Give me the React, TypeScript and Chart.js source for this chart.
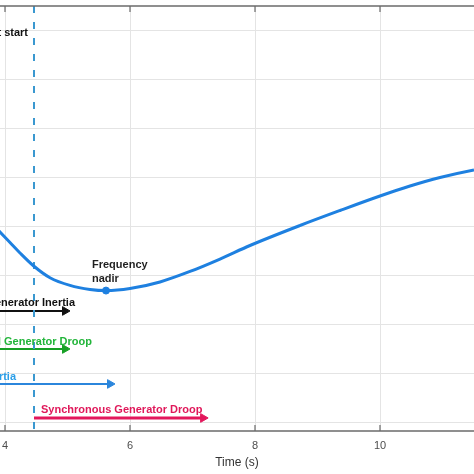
import React, { useEffect, useRef } from "react";
import { Chart, registerables } from "chart.js";

Chart.register(...registerables);

// Frequency response (time in s, frequency in Hz)
const timeS = [3.88, 3.92, 4.08, 4.24, 4.464, 4.72, 5.04, 5.36, 5.616, 6.0, 6.48, 6.96, 7.44, 7.92, 8.72, 9.36, 10.0, 10.48, 10.96, 11.504, 11.55];
const freqHz = [49.7976, 49.7949, 49.7842, 49.7735, 49.7599, 49.7482, 49.7404, 49.7363, 49.7351, 49.7372, 49.7439, 49.7546, 49.7673, 49.7811, 49.8015, 49.8168, 49.8316, 49.8418, 49.8505, 49.8582, 49.8587];

// Frequency nadir marker
const nadirTime = [5.616];
const nadirFreq = [49.7351];

// Disturbance start
const eventTime = 4.464;

// Axis limits / ticks
const xMin = 3.92;
const xMax = 11.504;
const xStep = 2;
const yMin = 49.5918;
const yMax = 50.0255;
const yStep = 0.05;

// Response arrows
const arrowStart = [3.7, 3.7, 3.7, 4.464];
const arrowEnd = [4.96, 4.96, 5.68, 7.17];
const arrowLevel = [49.7143, 49.6755, 49.6398, 49.6051];

// Text annotations
const labelText = [
  "Fault start",
  "Frequency",
  "nadir",
  "Synchronous Generator Inertia",
  "Wind Generator Droop",
  "Virtual Inertia",
  "Synchronous Generator Droop",
];
const labelTime = [4.368, 5.392, 5.392, 5.12, 5.392, 4.176, 4.576];
const labelFreq = [49.9949, 49.7582, 49.7439, 49.7194, 49.6796, 49.6439, 49.6102];

// Styles
const arrowColors = ["#111111", "#17a025", "#2b86dc", "#e3175c"];
const arrowWidths = [2, 2, 2, 3];
const labelAlign: CanvasTextAlign[] = ["right", "left", "left", "right", "right", "right", "left"];
const labelColors = ["#111111", "#1f1f1f", "#1f1f1f", "#111111", "#22b53a", "#2a9ee8", "#e0185a"];
const curveColor = "#1e80e0";
const FONT = '"Liberation Sans", Arial, sans-serif';

const framePlugin = {
  id: "frame",
  afterDatasetsDraw(chart: any) {
    const { ctx, chartArea } = chart;
    const xs = chart.scales.x;
    ctx.save();
    ctx.strokeStyle = "#6b6b6b";
    ctx.lineWidth = 1.5;
    ctx.beginPath();
    ctx.moveTo(chartArea.left, chartArea.top);
    ctx.lineTo(chartArea.right, chartArea.top);
    ctx.moveTo(chartArea.left, chartArea.bottom);
    ctx.lineTo(chartArea.right, chartArea.bottom);
    ctx.stroke();
    ctx.lineWidth = 1.2;
    ctx.beginPath();
    xs.ticks.forEach((t: any) => {
      const px = xs.getPixelForValue(t.value);
      ctx.moveTo(px, chartArea.bottom);
      ctx.lineTo(px, chartArea.bottom - 6);
      ctx.moveTo(px, chartArea.top);
      ctx.lineTo(px, chartArea.top + 6);
    });
    ctx.stroke();
    ctx.restore();
  },
};

const textPlugin = {
  id: "texts",
  afterDatasetsDraw(chart: any) {
    const { ctx } = chart;
    const xs = chart.scales.x;
    const ys = chart.scales.y;
    ctx.save();
    ctx.font = `bold 11px ${FONT}`;
    ctx.textBaseline = "alphabetic";
    labelText.forEach((txt, i) => {
      ctx.fillStyle = labelColors[i];
      ctx.textAlign = labelAlign[i];
      ctx.fillText(txt, xs.getPixelForValue(labelTime[i]), ys.getPixelForValue(labelFreq[i]));
    });
    ctx.restore();
  },
};

export default function App() {
  const ref = useRef<HTMLCanvasElement>(null);

  useEffect(() => {
    document.body.style.margin = "0";
    const datasets: any[] = [
      {
        label: "Frequency",
        data: timeS.map((t, i) => ({ x: t, y: freqHz[i] })),
        borderColor: curveColor,
        borderWidth: 3,
        pointRadius: 0,
        cubicInterpolationMode: "monotone",
        fill: false,
      },
      {
        label: "Nadir",
        data: nadirTime.map((t, i) => ({ x: t, y: nadirFreq[i] })),
        showLine: false,
        pointStyle: "circle",
        pointRadius: 3.5,
        pointBackgroundColor: curveColor,
        pointBorderColor: curveColor,
      },
      {
        label: "Start",
        data: [
          { x: eventTime, y: yMax },
          { x: eventTime, y: yMin },
        ],
        borderColor: "#3a98d0",
        borderWidth: 2,
        borderDash: [7, 9],
        pointRadius: 0,
        fill: false,
      },
    ];
    arrowStart.forEach((s, i) => {
      datasets.push({
        label: "arrow" + i,
        data: [
          { x: s, y: arrowLevel[i] },
          { x: arrowEnd[i], y: arrowLevel[i] },
        ],
        borderColor: arrowColors[i],
        borderWidth: arrowWidths[i],
        pointStyle: "triangle",
        pointRadius: [0, 5],
        pointRotation: [0, 90],
        pointBackgroundColor: arrowColors[i],
        pointBorderColor: arrowColors[i],
        pointBorderWidth: 1,
        fill: false,
      });
    });

    const chart = new Chart(ref.current!, {
      type: "line",
      data: { datasets },
      plugins: [framePlugin, textPlugin],
      options: {
        animation: false,
        responsive: true,
        maintainAspectRatio: false,
        events: [],
        layout: { autoPadding: false, padding: { top: 6, left: 0, right: 0, bottom: 0 } },
        plugins: { legend: { display: false }, tooltip: { enabled: false } },
        scales: {
          x: {
            type: "linear",
            min: xMin,
            max: xMax,
            ticks: {
              stepSize: xStep,
              includeBounds: false,
              padding: 8,
              color: "#4d4d4d",
              font: { family: FONT, size: 11 },
              maxRotation: 0,
            },
            grid: { color: "#e4e4e4", drawTicks: false, lineWidth: 1 },
            border: { display: false },
            title: {
              display: true,
              text: "Time (s)",
              color: "#333333",
              font: { family: FONT, size: 12 },
              padding: { top: 0, bottom: 4 },
            },
            afterFit: (s: any) => {
              s.height = 43;
              s.paddingLeft = 0;
              s.paddingRight = 0;
            },
          } as any,
          y: {
            type: "linear",
            min: yMin,
            max: yMax,
            ticks: { display: false, stepSize: yStep, includeBounds: false },
            grid: { color: "#e4e4e4", drawTicks: false, lineWidth: 1 },
            border: { display: false },
            afterFit: (s: any) => {
              s.width = 0;
            },
          } as any,
        },
      },
    });
    return () => chart.destroy();
  }, []);

  return (
    <div style={{ width: 474, height: 474, position: "relative", background: "#fff" }}>
      <canvas ref={ref} style={{ display: "block" }} />
    </div>
  );
}
